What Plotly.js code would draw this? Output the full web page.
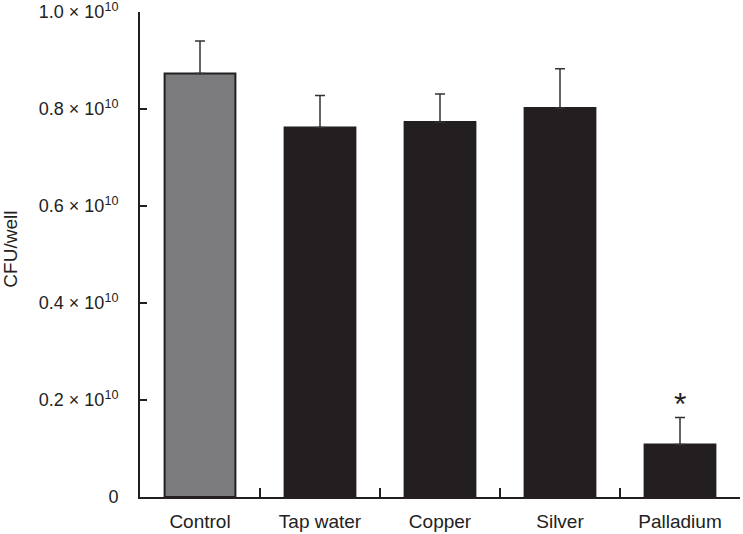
<!DOCTYPE html>
<html>
<head>
<meta charset="utf-8">
<script src="https://cdn.plot.ly/plotly-3.0.1.min.js"></script>
<style>html,body{margin:0;padding:0;background:#fff;}#chart{width:743px;height:534px;}</style>
</head>
<body>
<div id="chart"></div>
<script>
const categories = ["Control", "Tap water", "Copper", "Silver", "Palladium"];
const values = [8.73e9, 7.62e9, 7.73e9, 8.02e9, 1.08e9];
const errorUp = [0.67e9, 0.66e9, 0.58e9, 0.81e9, 0.56e9];
const errorDown = [0, 0, 0, 0, 0];
const barColors = ["#7b7b7d", "#231f20", "#231f20", "#231f20", "#231f20"];
const yTickVals = [0, 2e9, 4e9, 6e9, 8e9, 1e10];
const yTickText = ["0", "0.2 × 10<sup>10</sup>", "0.4 × 10<sup>10</sup>", "0.6 × 10<sup>10</sup>", "0.8 × 10<sup>10</sup>", "1.0 × 10<sup>10</sup>"];
const yTitle = "CFU/well";
const starLabel = "*";
const starCategory = "Palladium";
const starY = 1.92e9;

const font = "Liberation Sans, Arial, sans-serif";
const ink = "#231f20";

const trace = {
  type: "bar",
  x: categories,
  y: values,
  width: 0.59,
  marker: {color: barColors, line: {color: ink, width: 2}},
  error_y: {type: "data", symmetric: false, array: errorUp, arrayminus: errorDown, color: "#333", thickness: 1.5, width: 5}
};

const layout = {
  width: 743, height: 534,
  margin: {l: 140, r: 3, t: 12, b: 37},
  paper_bgcolor: "#fff", plot_bgcolor: "#fff",
  showlegend: false,
  font: {family: font, color: "#222"},
  xaxis: {
    type: "category",
    range: [-0.5, 4.5],
    showline: true, linecolor: ink, linewidth: 2,
    ticks: "inside", tickson: "boundaries", ticklen: 9, tickwidth: 2, tickcolor: ink,
    tickfont: {size: 19, family: font, color: "#222"},
    ticklabelstandoff: 6,
    showgrid: false, zeroline: false
  },
  yaxis: {
    range: [0, 1e10],
    showline: true, linecolor: ink, linewidth: 2,
    ticks: "inside", ticklen: 7, tickwidth: 2, tickcolor: ink,
    tickvals: yTickVals, ticktext: yTickText,
    tickfont: {size: 18, family: font, color: "#222"},
    ticklabelstandoff: 16,
    ticklabeloverflow: "allow",
    showgrid: false, zeroline: false
  },
  annotations: [
    {text: yTitle, xref: "paper", yref: "paper", x: -0.215, y: 0.51, textangle: -90,
     showarrow: false, xanchor: "center", yanchor: "middle", font: {size: 19, family: font, color: "#222"}},
    {text: starLabel, x: starCategory, y: starY, xref: "x", yref: "y", showarrow: false,
     yanchor: "middle", font: {size: 32, family: font, color: "#222"}}
  ]
};

Plotly.newPlot("chart", [trace], layout, {staticPlot: true, displayModeBar: false});
</script>
</body>
</html>
